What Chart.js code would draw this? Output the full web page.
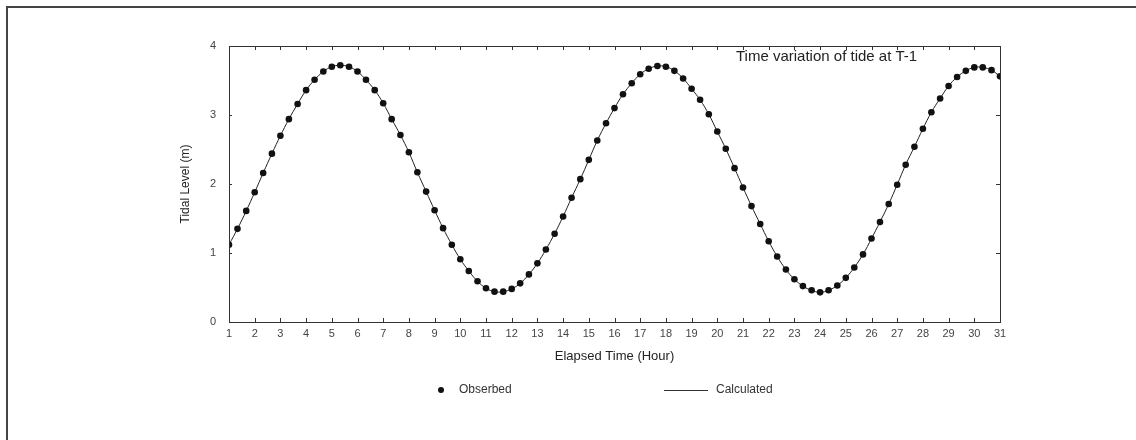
<!DOCTYPE html>
<html>
<head>
<meta charset="utf-8">
<title>Time variation of tide at T-1</title>
<script src="https://cdn.jsdelivr.net/npm/chart.js@4/dist/chart.umd.min.js"></script>
<style>
  html, body { margin: 0; padding: 0; background: #fff; }
  canvas { display: block; }
</style>
</head>
<body>
<canvas id="tideChart" width="1136" height="440"></canvas>
<script>
// elapsed time of each reading, every 20 minutes
const hours = [
  1, 1.33, 1.67, 2, 2.33, 2.67, 3, 3.33, 3.67, 4, 4.33, 4.67,
  5, 5.33, 5.67, 6, 6.33, 6.67, 7, 7.33, 7.67, 8, 8.33, 8.67,
  9, 9.33, 9.67, 10, 10.33, 10.67, 11, 11.33, 11.67, 12, 12.33, 12.67,
  13, 13.33, 13.67, 14, 14.33, 14.67, 15, 15.33, 15.67, 16, 16.33, 16.67,
  17, 17.33, 17.67, 18, 18.33, 18.67, 19, 19.33, 19.67, 20, 20.33, 20.67,
  21, 21.33, 21.67, 22, 22.33, 22.67, 23, 23.33, 23.67, 24, 24.33, 24.67,
  25, 25.33, 25.67, 26, 26.33, 26.67, 27, 27.33, 27.67, 28, 28.33, 28.67,
  29, 29.33, 29.67, 30, 30.33, 30.67, 31
];

// observed tidal level (m)
const observed = [
  1.12, 1.35, 1.61, 1.88, 2.16, 2.44, 2.70, 2.94, 3.16, 3.36, 3.51, 3.63,
  3.70, 3.72, 3.70, 3.63, 3.51, 3.36, 3.17, 2.94, 2.71, 2.46, 2.17, 1.89,
  1.62, 1.36, 1.12, 0.91, 0.74, 0.59, 0.49, 0.44, 0.44, 0.48, 0.56, 0.69,
  0.85, 1.05, 1.28, 1.53, 1.80, 2.07, 2.35, 2.63, 2.88, 3.10, 3.30, 3.46,
  3.59, 3.67, 3.71, 3.70, 3.64, 3.53, 3.38, 3.22, 3.01, 2.76, 2.51, 2.23,
  1.95, 1.68, 1.42, 1.17, 0.95, 0.76, 0.62, 0.52, 0.46, 0.43, 0.46, 0.53,
  0.64, 0.79, 0.98, 1.21, 1.45, 1.71, 1.99, 2.28, 2.54, 2.80, 3.04, 3.24,
  3.42, 3.55, 3.64, 3.69, 3.69, 3.65, 3.56
];

// calculated curve follows the observations
const calculated = observed;

const xTicks = [1, 31];
const yTicks = [0, 4];

const FONT = '"Liberation Sans", Arial, sans-serif';
Chart.defaults.font.family = FONT;
Chart.defaults.color = "#333";

const pairs = (xs, ys) => xs.map((x, i) => ({ x, y: ys[i] }));

// page frame, inward ticks, plot box, title and legend
const decorations = {
  id: "decorations",
  beforeDraw(chart) {
    const ctx = chart.ctx;
    ctx.save();
    ctx.strokeStyle = "#444";
    ctx.lineWidth = 2;
    ctx.beginPath();
    ctx.moveTo(7, 440);
    ctx.lineTo(7, 7);
    ctx.lineTo(1136, 7);
    ctx.stroke();
    ctx.restore();
  },
  afterDraw(chart) {
    const { ctx, chartArea: a, scales } = chart;
    ctx.save();
    ctx.strokeStyle = "#333";
    ctx.lineWidth = 1;
    ctx.strokeRect(a.left + 0.5, a.top + 0.5, a.right - a.left, a.bottom - a.top);

    ctx.beginPath();
    for (let h = xTicks[0]; h <= xTicks[1]; h++) {
      const px = Math.round(scales.x.getPixelForValue(h)) + 0.5;
      ctx.moveTo(px, a.bottom);
      ctx.lineTo(px, a.bottom - 4);
      ctx.moveTo(px, a.top);
      ctx.lineTo(px, a.top + 4);
    }
    for (let v = yTicks[0]; v <= yTicks[1]; v++) {
      const py = Math.round(scales.y.getPixelForValue(v)) + 0.5;
      ctx.moveTo(a.left, py);
      ctx.lineTo(a.left + 3, py);
      ctx.moveTo(a.right, py);
      ctx.lineTo(a.right - 4, py);
    }
    ctx.stroke();

    ctx.fillStyle = "#222";
    ctx.font = "15px " + FONT;
    ctx.textBaseline = "middle";
    ctx.textAlign = "left";
    ctx.fillText("Time variation of tide at T-1", 736, 57);

    // legend row
    const ly = 390;
    ctx.font = "12px " + FONT;
    ctx.fillStyle = "#111";
    ctx.beginPath();
    ctx.arc(441, ly, 3, 0, Math.PI * 2);
    ctx.fill();
    ctx.fillStyle = "#333";
    ctx.fillText(chart.data.datasets[0].label, 459, ly);

    ctx.strokeStyle = "#333";
    ctx.beginPath();
    ctx.moveTo(664, ly + 0.5);
    ctx.lineTo(708, ly + 0.5);
    ctx.stroke();
    ctx.fillText(chart.data.datasets[1].label, 716, ly);
    ctx.restore();
  }
};

new Chart(document.getElementById("tideChart"), {
  type: "line",
  data: {
    datasets: [
      {
        label: "Obserbed",
        data: pairs(hours, observed),
        showLine: false,
        pointRadius: 3.3,
        pointBackgroundColor: "#111",
        pointBorderWidth: 0,
        order: 1
      },
      {
        label: "Calculated",
        data: pairs(hours, calculated),
        borderColor: "#222",
        borderWidth: 1,
        pointRadius: 0,
        tension: 0.4,
        order: 2
      }
    ]
  },
  options: {
    responsive: false,
    devicePixelRatio: 1,
    animation: false,
    layout: { padding: { left: 178, right: 136, top: 46, bottom: 76 } },
    plugins: { legend: { display: false }, tooltip: { enabled: false } },
    scales: {
      x: {
        type: "linear",
        min: xTicks[0],
        max: xTicks[1],
        afterFit: s => { s.height = 42; },
        grid: { display: false, drawTicks: false },
        border: { display: false },
        ticks: { stepSize: 1, padding: 5, font: { size: 11 }, color: "#444" },
        title: {
          display: true,
          text: "Elapsed Time (Hour)",
          font: { size: 13 },
          color: "#222",
          padding: { top: 4, bottom: 0 }
        }
      },
      y: {
        min: yTicks[0],
        max: yTicks[1],
        afterFit: s => { s.width = 51; },
        grid: { display: false, drawTicks: false },
        border: { display: false },
        ticks: { stepSize: 1, padding: 13, font: { size: 11 }, color: "#444" },
        title: {
          display: true,
          text: "Tidal Level (m)",
          font: { size: 12 },
          color: "#222",
          padding: 0
        }
      }
    }
  },
  plugins: [decorations]
});
</script>
</body>
</html>
